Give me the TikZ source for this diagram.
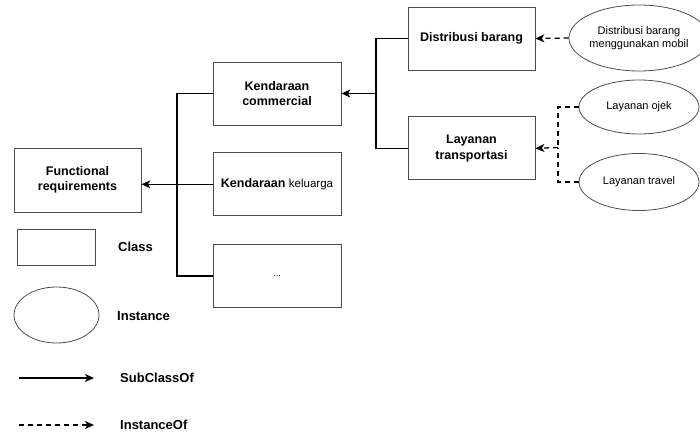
\documentclass[tikz,border=0pt]{standalone}
\usepackage{fontspec}
\setmainfont{Liberation Sans}
\usetikzlibrary{arrows.meta,shapes.geometric,positioning}
\tikzset{
    classbox/.style={draw=black!70, line width=0.8pt, minimum width=128pt, minimum height=63pt,
        inner sep=2pt, align=center, font=\fontsize{12.5}{15.5}\selectfont\bfseries},
    instnode/.style={ellipse, draw=black!70, line width=0.8pt, inner sep=0pt, align=center,
        minimum width=120pt, font=\fontsize{11}{13}\selectfont},
    subcls/.style={line width=1.3pt, -{Stealth[length=9pt,width=8pt,inset=2.5pt]}},
    subline/.style={line width=1.3pt},
    instof/.style={line width=1.3pt, dash pattern=on 5pt off 4pt, -{Stealth[length=9pt,width=8pt,inset=2.5pt]}},
    instline/.style={line width=1.3pt, dash pattern=on 5pt off 4pt},
    legendtext/.style={anchor=west, inner sep=0pt, font=\fontsize{13}{15}\selectfont\bfseries}
}
\begin{document}
\begin{tikzpicture}[x=1pt,y=-1pt]
    \useasboundingbox (0,0) rectangle (700,434);
    \node[classbox, minimum width=127pt, minimum height=64pt] (fr) at (77.5,180) {Functional\\requirements};
    \node[classbox] (kc) at (277,93.5) {Kendaraan\\commercial};
    \node[classbox, below=27pt of kc] (kk) {Kendaraan {\mdseries\fontsize{11.5}{13}\selectfont keluarga}};
    \node[classbox, below=28pt of kk] (more) {\mdseries\fontsize{9}{11}\selectfont ...};
    \node[classbox, minimum width=127pt] (db) at (471.5,38.5) {Distribusi barang};
    \node[classbox, minimum width=127pt, below=46pt of db] (lt) {Layanan\\transportasi};
    \node[instnode, minimum height=66pt] (i1) at (639,38) {Distribusi barang\\menggunakan mobil};
    \node[instnode, minimum height=54pt] (i2) at (639,107) {Layanan ojek};
    \node[instnode, minimum height=57pt] (i3) at (639,182) {Layanan travel};

    \coordinate (j1) at (177,183.5);
    \coordinate (j2) at (376,93.5);
    \coordinate (j3) at (558,147.5);
    \draw[subline] (kc.west) -| (j1);
    \draw[subline] (more.west) -| (j1);
    \draw[subcls] (kk.west) -- (fr.east |- kk.west);
    \draw[subline] (db.west) -| (j2);
    \draw[subline] (lt.west) -| (j2);
    \draw[subcls] (j2) -- (kc.east);
    \draw[instof] (i1.west) -- (db.east);
    \draw[instline] (i2.west) -| (j3);
    \draw[instline] (i3.west) -| (j3);
    \draw[instof] (j3) -- (lt.east);

    \node[draw=black!70, line width=0.8pt, minimum width=78pt, minimum height=36pt] (lgclass) at (56,247) {};
    \node[legendtext] (lgclasstxt) at (118,247) {Class};
    \node[ellipse, draw=black!70, line width=0.8pt, minimum width=85pt, minimum height=56pt] (lginst) at (56.5,315) {};
    \node[legendtext] (lginsttxt) at (117,316) {Instance};
    \coordinate (sa) at (19,378);
    \coordinate (sb) at (94,378);
    \draw[subcls] (sa) -- (sb);
    \node[legendtext] (lgsubtxt) at (120,378) {SubClassOf};
    \coordinate (ia) at (19,425);
    \coordinate (ib) at (94,425);
    \draw[instof] (ia) -- (ib);
    \node[legendtext] (lginsttxt2) at (120,425) {InstanceOf};
\end{tikzpicture}
\end{document}
